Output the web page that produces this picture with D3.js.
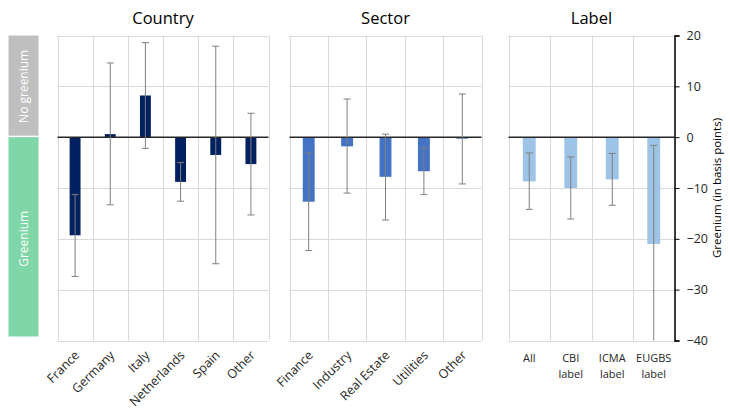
<!DOCTYPE html>
<html>
<head>
<meta charset="utf-8">
<script src="https://cdn.jsdelivr.net/npm/d3@7"></script>
<style>
  body { margin: 0; background: #fff; }
  svg { font-family: "Open Sans", "Noto Sans", sans-serif; }
</style>
</head>
<body>
<svg id="chart" width="730" height="410"></svg>
<script>
// data (basis points)
var countryCats = ["France", "Germany", "Italy", "Netherlands", "Spain", "Other"];
var countryVals = [-19.3, 0.6, 8.2, -8.8, -3.5, -5.3];
var countryLow  = [-27.4, -13.3, -2.2, -12.6, -24.9, -15.3];
var countryHigh = [-11.3, 14.6, 18.6, -5.0, 17.9, 4.7];

var sectorCats = ["Finance", "Industry", "Real Estate", "Utilities", "Other"];
var sectorVals = [-12.7, -1.8, -7.8, -6.7, -0.3];
var sectorLow  = [-22.3, -11.0, -16.3, -11.3, -9.2];
var sectorHigh = [-3.1, 7.5, 0.6, -2.1, 8.5];

var labelCats = [["All"], ["CBI", "label"], ["ICMA", "label"], ["EUGBS", "label"]];
var labelVals = [-8.7, -10.0, -8.3, -21.0];
var labelLow  = [-14.2, -16.1, -13.4, -40.4];
var labelHigh = [-3.1, -3.9, -3.2, -1.6];

var yTicks = [20, 10, 0, -10, -20, -30, -40];
var yDomain = [-40, 20];

var svg = d3.select("#chart");
var y = d3.scaleLinear().domain(yDomain).range([340.5, 35.5]);

// greenium / no greenium bands on the left
var bands = svg.append("g");
bands.append("rect").attr("x", 8.5).attr("width", 30)
    .attr("y", y(20)).attr("height", y(0) - y(20) - 1.5)
    .attr("fill", "#BFBFBF");
bands.append("rect").attr("x", 8.5).attr("width", 30)
    .attr("y", y(0)).attr("height", y(-40) - y(0) - 4)
    .attr("fill", "#7FD6A7");
bands.append("text").attr("transform", "translate(27.5," + ((y(20) + y(0)) / 2) + ") rotate(-90)")
    .attr("text-anchor", "middle").attr("fill", "#fff").attr("font-size", 12)
    .text("No greenium");
bands.append("text").attr("transform", "translate(27.5," + ((y(0) + y(-40)) / 2) + ") rotate(-90)")
    .attr("text-anchor", "middle").attr("fill", "#fff").attr("font-size", 12)
    .text("Greenium");

function drawPanel(opts) {
    var g = svg.append("g");
    var x = d3.scaleBand().domain(d3.range(opts.cats.length)).range(opts.range).padding(0);
    var bw = x.bandwidth() * 0.31;

    // grid
    g.selectAll(".hg").data(yTicks).enter().append("line")
        .attr("x1", opts.range[0]).attr("x2", opts.range[1])
        .attr("y1", function(d) { return Math.round(y(d)) + 0.5; })
        .attr("y2", function(d) { return Math.round(y(d)) + 0.5; })
        .attr("stroke", "#D9D9D9").attr("stroke-width", 1);
    var vx = d3.range(opts.cats.length + 1).map(function(i) {
        return i < opts.cats.length ? x(i) : opts.range[1];
    });
    g.selectAll(".vg").data(vx).enter().append("line")
        .attr("x1", function(d) { return Math.round(d) + 0.5; })
        .attr("x2", function(d) { return Math.round(d) + 0.5; })
        .attr("y1", y(20)).attr("y2", y(-40))
        .attr("stroke", "#D9D9D9").attr("stroke-width", 1);

    // bars
    g.selectAll(".bar").data(opts.vals).enter().append("rect")
        .attr("x", function(d, i) { return x(i) + x.bandwidth() / 2 - bw / 2; })
        .attr("width", bw)
        .attr("y", function(d) { return y(Math.max(0, d)); })
        .attr("height", function(d) { return Math.abs(y(d) - y(0)); })
        .attr("fill", opts.color);

    // zero line
    g.append("line").attr("x1", opts.range[0]).attr("x2", opts.range[1])
        .attr("y1", y(0)).attr("y2", y(0))
        .attr("stroke", "#262626").attr("stroke-width", 1.5);

    // error bars
    var eb = g.selectAll(".eb").data(opts.vals).enter().append("g")
        .attr("transform", function(d, i) { return "translate(" + (x(i) + x.bandwidth() / 2) + ",0)"; });
    eb.append("line")
        .attr("y1", function(d, i) { return y(Math.max(yDomain[0], opts.low[i])); })
        .attr("y2", function(d, i) { return y(opts.high[i]); })
        .attr("stroke", "#7F7F7F").attr("stroke-width", 1);
    eb.append("line").attr("x1", -3.5).attr("x2", 3.5)
        .attr("y1", function(d, i) { return y(opts.high[i]); })
        .attr("y2", function(d, i) { return y(opts.high[i]); })
        .attr("stroke", "#7F7F7F").attr("stroke-width", 1);
    eb.each(function(d, i) {
        if (opts.low[i] < yDomain[0]) return;
        d3.select(this).append("line").attr("x1", -3.5).attr("x2", 3.5)
            .attr("y1", y(opts.low[i])).attr("y2", y(opts.low[i]))
            .attr("stroke", "#7F7F7F").attr("stroke-width", 1);
    });

    // title
    g.append("text")
        .attr("x", (opts.range[0] + opts.range[1]) / 2).attr("y", 24)
        .attr("text-anchor", "middle").attr("font-size", 16.5).attr("fill", "#000")
        .text(opts.title);

    // category labels
    if (opts.rotate) {
        g.selectAll(".xl").data(opts.cats).enter().append("text")
            .attr("transform", function(d, i) {
                return "translate(" + (x(i) + x.bandwidth() / 2 + 5) + ",356) rotate(-45)";
            })
            .attr("text-anchor", "end").attr("font-size", 12.5).attr("fill", "#262626")
            .text(function(d) { return d; });
    } else {
        opts.cats.forEach(function(lines, i) {
            lines.forEach(function(t, j) {
                g.append("text")
                    .attr("x", x(i) + x.bandwidth() / 2).attr("y", 362 + j * 15.5)
                    .attr("text-anchor", "middle").attr("font-size", 11).attr("fill", "#262626")
                    .text(t);
            });
        });
    }
    return x;
}

drawPanel({ title: "Country", cats: countryCats, vals: countryVals, low: countryLow, high: countryHigh,
    range: [57.5, 268.5], color: "#002060", rotate: true });
drawPanel({ title: "Sector", cats: sectorCats, vals: sectorVals, low: sectorLow, high: sectorHigh,
    range: [289.5, 481.5], color: "#4472C4", rotate: true });
drawPanel({ title: "Label", cats: labelCats, vals: labelVals, low: labelLow, high: labelHigh,
    range: [508.5, 674.5], color: "#9DC3E6", rotate: false });

// right axis
var axis = d3.axisRight(y).tickValues(yTicks).tickSize(5).tickPadding(7);
var ag = svg.append("g").attr("transform", "translate(674.5,0)").call(axis);
ag.select(".domain").attr("stroke", "#000").attr("stroke-width", 1.5);
ag.selectAll(".tick line").attr("stroke", "#000");
ag.selectAll(".tick text").attr("font-size", 12.5).attr("fill", "#262626")
    .attr("font-family", "\"Open Sans\", \"Noto Sans\", sans-serif");

svg.append("text")
    .attr("transform", "translate(721," + ((y(20) + y(-40)) / 2) + ") rotate(-90)")
    .attr("text-anchor", "middle").attr("font-size", 11.5).attr("fill", "#000")
    .text("Greenium (in basis points)");
</script>
</body>
</html>
